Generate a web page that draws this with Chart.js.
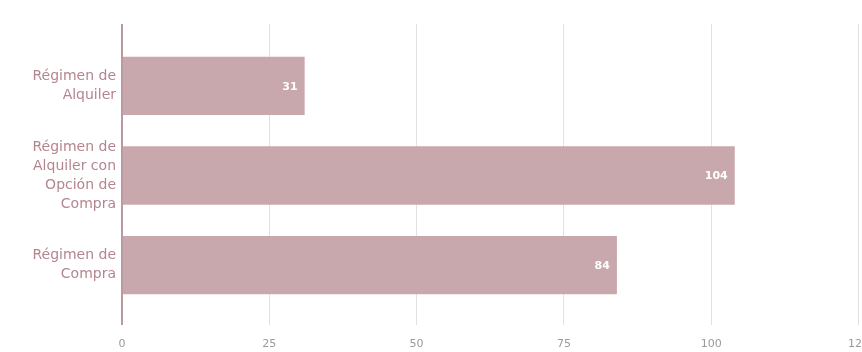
<!DOCTYPE html>
<html>
<head>
<meta charset="utf-8">
<script src="https://cdn.jsdelivr.net/npm/chart.js@4/dist/chart.umd.min.js"></script>
<style>
  html, body { margin: 0; padding: 0; background: #fff; overflow: hidden; }
  #wrap { width: 882px; height: 352px; }
</style>
</head>
<body>
<div id="wrap"><canvas id="chart"></canvas></div>
<script>
const categories = [
  ["Régimen de", "Alquiler"],
  ["Régimen de", "Alquiler con", "Opción de", "Compra"],
  ["Régimen de", "Compra"]
];
const values = [31, 104, 84];
const xTicks = [0, 25, 50, 75, 100, 125];

const barColor = "#c9a8ad";
const gridColor = "#e2e2e2";
const zeroColor = "#b99aa0";

// white value labels drawn at the end of each bar
const barValueLabels = {
  id: "barValueLabels",
  afterDatasetsDraw(chart) {
    const ctx = chart.ctx;
    const meta = chart.getDatasetMeta(0);
    ctx.save();
    ctx.fillStyle = "#ffffff";
    ctx.font = "bold 11px 'DejaVu Sans', sans-serif";
    ctx.textAlign = "right";
    ctx.textBaseline = "middle";
    meta.data.forEach((bar, i) => {
      ctx.fillText(String(values[i]), bar.x - 7, bar.y + 1);
    });
    ctx.restore();
  }
};

const gridLineColor = (c) => c.tick && c.tick.value === 0 ? zeroColor : gridColor;
const gridLineWidth = (c) => c.tick && c.tick.value === 0 ? 2 : 1;

new Chart(document.getElementById("chart"), {
  type: "bar",
  data: {
    labels: categories,
    datasets: [{
      data: values,
      backgroundColor: barColor,
      borderWidth: 0,
      barPercentage: 0.65,
      categoryPercentage: 1
    }]
  },
  options: {
    indexAxis: "y",
    responsive: true,
    maintainAspectRatio: false,
    animation: false,
    layout: { padding: { top: 24, bottom: 0, left: 0, right: 0 } },
    plugins: { legend: { display: false }, tooltip: { enabled: false } },
    scales: {
      x: {
        min: 0,
        max: 125,
        afterBuildTicks: (s) => { s.ticks = xTicks.map(v => ({ value: v })); },
        afterFit: (s) => { s.height = 42; },
        grid: { color: gridLineColor, lineWidth: gridLineWidth, tickLength: 15 },
        border: { display: false },
        ticks: {
          color: "#9a9a9a",
          padding: 13,
          font: { family: "'DejaVu Sans', sans-serif", size: 11 }
        }
      },
      xTop: {
        axis: "x",
        position: "top",
        min: 0,
        max: 125,
        afterBuildTicks: (s) => { s.ticks = xTicks.map(v => ({ value: v })); },
        grid: { color: gridLineColor, lineWidth: gridLineWidth, tickLength: 17, drawOnChartArea: false },
        border: { display: false },
        ticks: { display: false }
      },
      y: {
        grid: { display: false, drawTicks: false },
        border: { display: false },
        afterFit: (s) => { s.width = 122; },
        ticks: {
          color: "#b4858f",
          padding: 6,
          font: { family: "'DejaVu Sans', sans-serif", size: 14, lineHeight: 1.36 }
        }
      }
    }
  },
  plugins: [barValueLabels]
});
</script>
</body>
</html>
